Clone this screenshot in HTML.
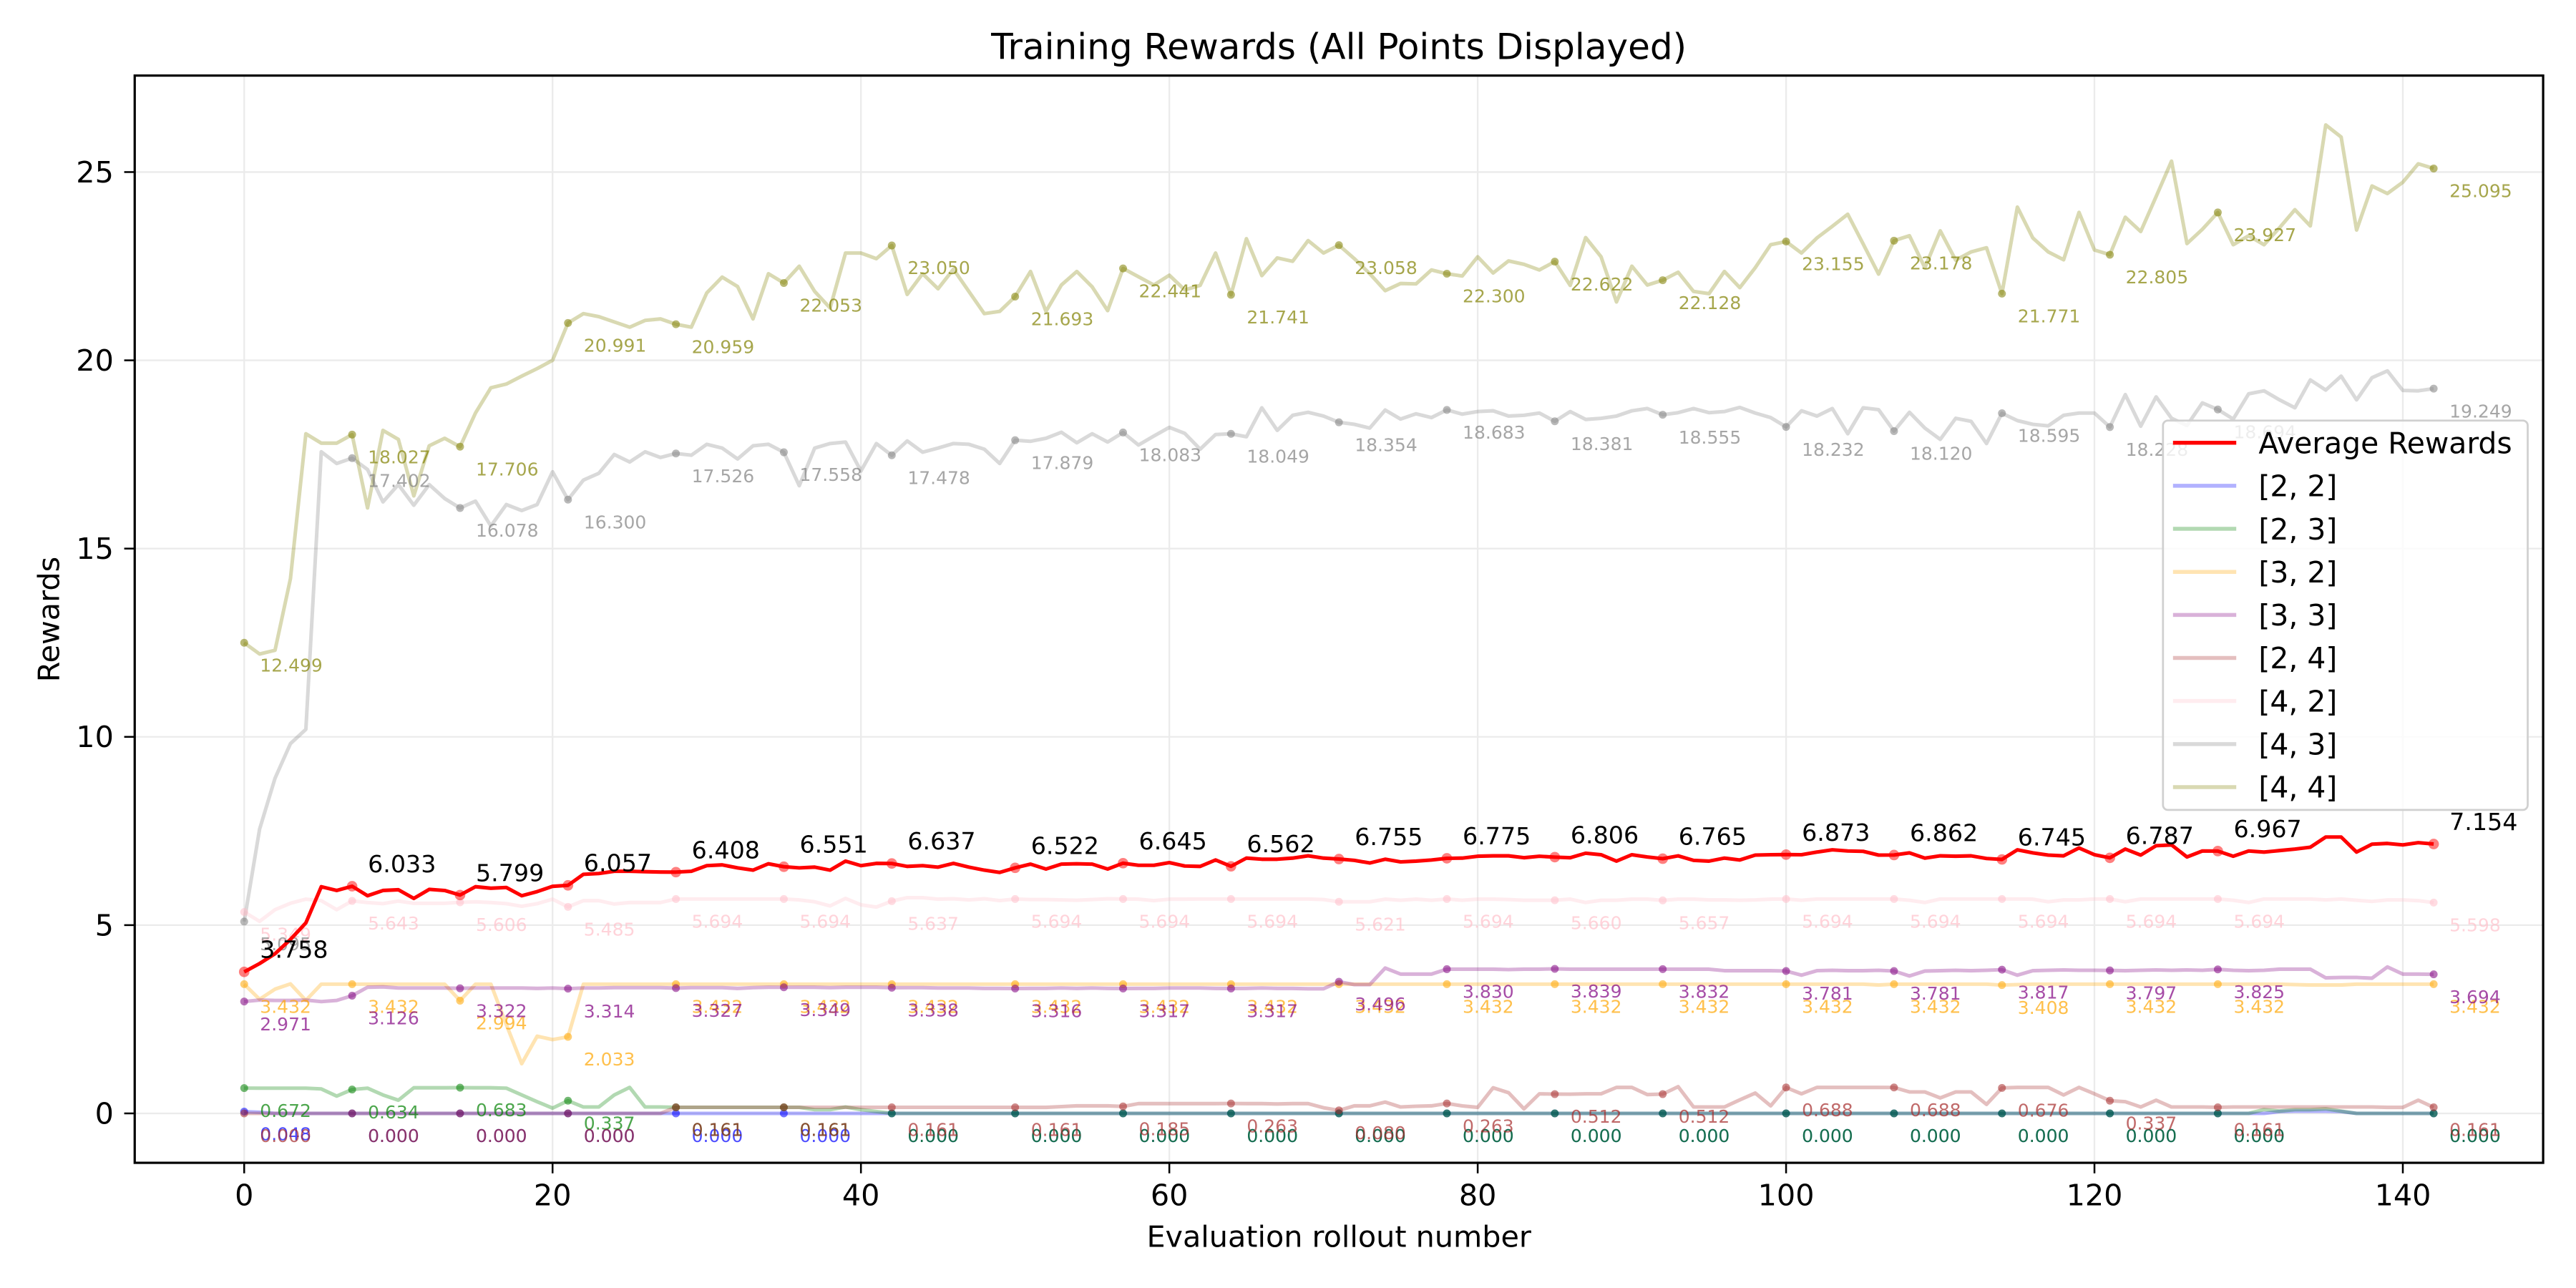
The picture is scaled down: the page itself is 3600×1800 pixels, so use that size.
<!DOCTYPE html>
<html><head><meta charset="utf-8"><style>
html,body{margin:0;padding:0;background:#fff;}
svg{display:block;font-family:"DejaVu Sans","Liberation Sans",sans-serif;}
</style></head><body>
<svg id="chart" width="3600" height="1800" viewBox="0 0 1568 784" xmlns="http://www.w3.org/2000/svg">
<rect x="0" y="0" width="1568" height="784" fill="#fff"/>
<text x="815" y="36" text-anchor="middle" font-size="21.8" fill="#000">Training Rewards (All Points Displayed)</text>
<text x="815" y="759" text-anchor="middle" font-size="18" fill="#000">Evaluation rollout number</text>
<text x="0" y="0" transform="translate(36,377) rotate(-90)" text-anchor="middle" font-size="18" fill="#000">Rewards</text>
<g id="grid"></g>
<g id="series"></g>
<g id="axes"></g>
<g id="legend"></g>
</svg>
<script>
const xTicks = [0, 20, 40, 60, 80, 100, 120, 140];
const yTicks = [0, 5, 10, 15, 20, 25];
const markIdx = [0,7,14,21,28,35,42,50,57,64,71,78,85,92,100,107,114,121,128,142];
const seriesNames = ["[2, 2]","[2, 3]","[3, 2]","[3, 3]","[2, 4]","[4, 2]","[4, 3]","[4, 4]"];
const avgRewards = [3.758,3.98,4.24,4.62,5.06,6.02,5.92,6.033,5.78,5.92,
5.94,5.71,5.95,5.92,5.799,6.02,5.98,6.0,5.78,5.89,
6.03,6.057,6.35,6.37,6.43,6.43,6.42,6.41,6.408,6.43,
6.58,6.6,6.52,6.46,6.63,6.551,6.52,6.54,6.46,6.7,
6.58,6.64,6.637,6.56,6.58,6.54,6.64,6.54,6.46,6.4,
6.522,6.62,6.49,6.62,6.63,6.62,6.49,6.645,6.59,6.59,
6.66,6.57,6.56,6.73,6.562,6.78,6.75,6.75,6.78,6.84,
6.78,6.755,6.72,6.65,6.75,6.68,6.7,6.73,6.775,6.78,
6.83,6.84,6.84,6.79,6.83,6.806,6.79,6.91,6.87,6.7,
6.87,6.81,6.765,6.84,6.72,6.7,6.78,6.73,6.86,6.87,
6.873,6.87,6.94,7.0,6.97,6.96,6.86,6.862,6.92,6.78,
6.84,6.83,6.84,6.77,6.745,7.0,6.92,6.86,6.84,7.05,
6.87,6.787,7.02,6.86,7.11,7.13,6.81,6.97,6.967,6.83,
6.97,6.94,6.98,7.02,7.07,7.34,7.34,6.94,7.15,7.17,
7.13,7.19,7.154];
const s22 = [0.048,0.03,0,0,0,0,0,0,0,0,
0,0,0,0,0,0,0,0,0,0,
0,0,0,0,0,0,0,0,0,0,
0,0,0,0,0,0,0,0,0,0,
0,0,0,0,0,0,0,0,0,0,
0,0,0,0,0,0,0,0,0,0,
0,0,0,0,0,0,0,0,0,0,
0,0,0,0,0,0,0,0,0,0,
0,0,0,0,0,0,0,0,0,0,
0,0,0,0,0,0,0,0,0,0,
0,0,0,0,0,0,0,0,0,0,
0,0,0,0,0,0,0,0,0,0,
0,0,0,0,0,0,0,0,0,0,
0,0,0.05,0.06,0.06,0.06,0.05,0,0,0,
0,0,0];
const s23 = [0.672,0.67,0.67,0.67,0.67,0.65,0.46,0.634,0.67,0.49,
0.35,0.68,0.68,0.68,0.683,0.68,0.68,0.67,0.49,0.31,
0.14,0.337,0.17,0.17,0.49,0.69,0.17,0.17,0.161,0.161,
0.161,0.161,0.161,0.161,0.161,0.161,0.161,0.1,0.1,0.17,
0.1,0.05,0,0,0,0,0,0,0,0,
0,0,0,0,0,0,0,0,0,0,
0,0,0,0,0,0,0,0,0,0,
0,0,0,0,0,0,0,0,0,0,
0,0,0,0,0,0,0,0,0,0,
0,0,0,0,0,0,0,0,0,0,
0,0,0,0,0,0,0,0,0,0,
0,0,0,0,0,0,0,0,0,0,
0,0,0,0,0,0,0,0,0,0,
0,0.1,0.06,0.1,0.1,0.12,0.06,0,0,0,
0,0,0];
const s32 = [3.432,3.03,3.3,3.44,3.0,3.432,3.432,3.432,3.432,3.432,
3.432,3.432,3.432,3.432,2.994,3.432,3.432,2.36,1.32,2.05,
1.96,2.033,3.432,3.432,3.432,3.432,3.432,3.432,3.432,3.432,
3.432,3.432,3.432,3.432,3.432,3.432,3.432,3.432,3.432,3.432,
3.432,3.432,3.432,3.432,3.432,3.432,3.432,3.432,3.432,3.432,
3.432,3.432,3.432,3.432,3.432,3.432,3.432,3.432,3.432,3.432,
3.432,3.432,3.432,3.432,3.432,3.432,3.432,3.432,3.432,3.432,
3.432,3.432,3.432,3.432,3.432,3.432,3.432,3.432,3.432,3.432,
3.432,3.432,3.432,3.432,3.432,3.432,3.432,3.432,3.432,3.432,
3.432,3.432,3.432,3.432,3.432,3.432,3.432,3.432,3.432,3.432,
3.432,3.432,3.432,3.432,3.432,3.432,3.41,3.432,3.432,3.432,
3.432,3.432,3.432,3.432,3.408,3.42,3.432,3.432,3.432,3.432,
3.432,3.432,3.432,3.432,3.432,3.432,3.432,3.432,3.432,3.432,
3.432,3.432,3.432,3.42,3.41,3.41,3.41,3.432,3.432,3.432,
3.432,3.432,3.432];
const s33 = [2.971,3.01,3.0,3.0,3.01,2.97,3.0,3.126,3.35,3.36,
3.33,3.33,3.33,3.33,3.322,3.33,3.33,3.33,3.33,3.32,
3.33,3.314,3.33,3.33,3.34,3.34,3.34,3.34,3.327,3.34,
3.34,3.34,3.32,3.34,3.35,3.349,3.35,3.35,3.34,3.35,
3.35,3.35,3.338,3.34,3.34,3.33,3.33,3.33,3.32,3.32,
3.316,3.32,3.32,3.33,3.32,3.33,3.32,3.317,3.32,3.32,
3.33,3.33,3.33,3.32,3.317,3.32,3.33,3.32,3.32,3.31,
3.31,3.496,3.42,3.42,3.86,3.7,3.7,3.7,3.83,3.83,
3.83,3.83,3.82,3.83,3.83,3.839,3.83,3.83,3.83,3.83,
3.83,3.83,3.832,3.83,3.83,3.83,3.79,3.79,3.79,3.79,
3.781,3.67,3.79,3.8,3.79,3.79,3.8,3.781,3.65,3.78,
3.79,3.8,3.79,3.8,3.817,3.67,3.79,3.8,3.81,3.8,
3.8,3.797,3.79,3.8,3.81,3.8,3.81,3.8,3.825,3.8,
3.79,3.8,3.83,3.83,3.83,3.6,3.61,3.61,3.59,3.89,
3.7,3.7,3.694];
const s24 = [0,0,0,0,0,0,0,0,0,0,
0,0,0,0,0,0,0,0,0,0,
0,0,0,0,0,0,0,0,0.161,0.161,
0.161,0.161,0.161,0.161,0.161,0.161,0.161,0.161,0.161,0.161,
0.161,0.161,0.161,0.161,0.161,0.161,0.161,0.161,0.161,0.161,
0.161,0.16,0.16,0.18,0.2,0.2,0.2,0.185,0.26,0.26,
0.26,0.26,0.26,0.26,0.263,0.26,0.26,0.25,0.26,0.26,
0.15,0.08,0.2,0.2,0.3,0.17,0.19,0.2,0.263,0.2,
0.16,0.68,0.55,0.12,0.52,0.512,0.51,0.52,0.52,0.69,
0.69,0.5,0.512,0.71,0.17,0.17,0.17,0.36,0.54,0.2,
0.688,0.52,0.69,0.69,0.69,0.69,0.69,0.688,0.57,0.57,
0.41,0.57,0.57,0.24,0.676,0.69,0.69,0.69,0.49,0.69,
0.52,0.337,0.31,0.17,0.35,0.17,0.17,0.17,0.161,0.17,
0.17,0.17,0.17,0.17,0.17,0.17,0.17,0.17,0.17,0.16,
0.16,0.35,0.161];
const s42 = [5.349,5.1,5.41,5.58,5.69,5.65,5.41,5.643,5.6,5.57,
5.64,5.58,5.58,5.58,5.606,5.62,5.6,5.57,5.5,5.57,
5.69,5.485,5.65,5.65,5.56,5.6,5.6,5.6,5.694,5.694,
5.694,5.694,5.694,5.694,5.694,5.694,5.67,5.62,5.51,5.71,
5.54,5.48,5.637,5.73,5.73,5.69,5.7,5.67,5.7,5.65,
5.694,5.68,5.68,5.67,5.66,5.68,5.7,5.694,5.69,5.65,
5.69,5.69,5.694,5.694,5.694,5.694,5.694,5.694,5.694,5.694,
5.68,5.621,5.62,5.62,5.69,5.66,5.69,5.66,5.694,5.66,
5.69,5.69,5.68,5.66,5.66,5.66,5.69,5.6,5.66,5.66,
5.69,5.69,5.657,5.69,5.69,5.67,5.67,5.66,5.67,5.69,
5.694,5.66,5.694,5.694,5.694,5.694,5.694,5.694,5.66,5.6,
5.694,5.694,5.694,5.694,5.694,5.694,5.69,5.62,5.67,5.67,
5.694,5.694,5.62,5.694,5.694,5.694,5.694,5.694,5.694,5.66,
5.6,5.694,5.694,5.694,5.694,5.67,5.694,5.66,5.63,5.67,
5.67,5.65,5.598];
const s43 = [5.095,7.55,8.9,9.82,10.2,17.57,17.26,17.402,17.1,16.24,
16.7,16.15,16.7,16.33,16.078,16.26,15.6,16.17,16.01,16.17,
17.04,16.3,16.82,17.0,17.5,17.3,17.57,17.42,17.526,17.48,
17.77,17.67,17.38,17.73,17.77,17.558,16.67,17.67,17.79,17.83,
17.06,17.79,17.478,17.86,17.56,17.67,17.79,17.77,17.64,17.26,
17.879,17.85,17.93,18.09,17.81,18.05,17.83,18.083,17.75,17.99,
18.22,18.06,17.64,18.03,18.049,17.97,18.74,18.14,18.54,18.62,
18.52,18.354,18.3,18.2,18.68,18.44,18.58,18.48,18.683,18.57,
18.64,18.66,18.52,18.54,18.6,18.381,18.64,18.43,18.46,18.52,
18.66,18.72,18.555,18.61,18.72,18.61,18.64,18.75,18.6,18.48,
18.232,18.66,18.52,18.72,18.05,18.74,18.69,18.12,18.62,18.2,
17.9,18.46,18.38,17.79,18.595,18.4,18.3,18.26,18.54,18.6,
18.6,18.228,19.09,18.25,19.03,18.46,18.27,18.87,18.694,18.44,
19.11,19.19,18.95,18.74,19.48,19.21,19.58,18.95,19.54,19.72,
19.2,19.19,19.249];
const s44 = [12.499,12.2,12.3,14.2,18.05,17.8,17.8,18.027,16.08,18.14,
17.9,16.4,17.73,17.93,17.706,18.6,19.27,19.37,19.58,19.78,
20.0,20.991,21.24,21.16,21.02,20.88,21.06,21.1,20.959,20.88,
21.79,22.21,21.96,21.1,22.3,22.053,22.5,21.83,21.39,22.85,
22.85,22.7,23.05,21.75,22.3,21.9,22.42,21.83,21.24,21.3,
21.693,22.36,21.3,22.0,22.36,21.95,21.32,22.441,22.22,22.0,
22.26,21.87,21.99,22.85,21.741,23.23,22.25,22.72,22.63,23.18,
22.85,23.058,22.7,22.3,21.85,22.04,22.03,22.4,22.3,22.24,
22.75,22.32,22.64,22.55,22.4,22.622,21.99,23.26,22.75,21.55,
22.5,22.0,22.128,22.34,21.83,21.77,22.36,21.93,22.46,23.07,
23.155,22.85,23.25,23.56,23.88,23.09,22.29,23.178,23.31,22.46,
23.44,22.66,22.88,22.99,21.771,24.07,23.25,22.88,22.67,23.93,
22.93,22.805,23.8,23.42,24.35,25.29,23.1,23.48,23.927,23.07,
23.31,23.07,23.52,24.0,23.57,26.25,25.93,23.46,24.63,24.43,
24.73,25.22,25.095];

const NS = "http://www.w3.org/2000/svg";
const L = 82, R = 1548, T = 46, B = 707.8;
const xMin = -7.1, xMax = 149.1, yMin = -1.3125, yMax = 27.5625;
function xs(v){ return L + (v - xMin) / (xMax - xMin) * (R - L); }
function ys(v){ return B - (v - yMin) / (yMax - yMin) * (B - T); }
function mk(tag, attrs){ const e = document.createElementNS(NS, tag); for (const k in attrs) e.setAttribute(k, attrs[k]); return e; }

const grid = document.getElementById('grid');
const axes = document.getElementById('axes');
const layer = document.getElementById('series');
const legend = document.getElementById('legend');

xTicks.forEach(t => {
  const g = mk('line', {x1: xs(t), x2: xs(t), y1: T, y2: B, stroke: '#ebebeb', 'stroke-width': 1});
  
  
  grid.appendChild(g);
  const tk = mk('line', {x1: xs(t), x2: xs(t), y1: B, y2: B + 6.4, stroke: '#000', 'stroke-width': 1.1});
  
  
  axes.appendChild(tk);
  const lb = mk('text', {x: xs(t), y: B + 26, 'text-anchor': 'middle', 'font-size': 18, fill: '#000'});
  lb.textContent = String(t);
  
  
  axes.appendChild(lb);
});
yTicks.forEach(t => {
  const g = mk('line', {x1: L, x2: R, y1: ys(t), y2: ys(t), stroke: '#ebebeb', 'stroke-width': 1});
  
  
  grid.appendChild(g);
  const tk = mk('line', {x1: L - 6.4, x2: L, y1: ys(t), y2: ys(t), stroke: '#000', 'stroke-width': 1.1});
  
  
  axes.appendChild(tk);
  const lb = mk('text', {x: L - 12.8, y: ys(t) + 6.3, 'text-anchor': 'end', 'font-size': 18, fill: '#000'});
  lb.textContent = String(t);
  
  
  axes.appendChild(lb);
});
const frame = mk('rect', {x: L, y: T, width: R - L, height: B - T, fill: 'none', stroke: '#000', 'stroke-width': 1.4});


axes.appendChild(frame);

const seriesData = [s22, s23, s32, s33, s24, s42, s43, s44];
const baseColors = ['#0000ff', '#008000', '#ffa500', '#800080', '#a52a2a', '#ffc0cb', '#808080', '#808000'];
const seriesKeys = ['2-2', '2-3', '3-2', '3-3', '2-4', '4-2', '4-3', '4-4'];

function pathFor(arr){ return arr.map((v, i) => (i ? 'L' : 'M') + xs(i).toFixed(2) + ' ' + ys(v).toFixed(2)).join(' '); }

seriesData.forEach((arr, k) => {
  const p = mk('path', {d: pathFor(arr), fill: 'none', stroke: baseColors[k], 'stroke-opacity': 0.3, 'stroke-width': 2.2, 'stroke-linejoin': 'round'});
  
  
  layer.appendChild(p);
});
seriesData.forEach((arr, k) => {
  markIdx.forEach(i => {
    const c = mk('circle', {cx: xs(i), cy: ys(arr[i]), r: 2.4, fill: baseColors[k], 'fill-opacity': 0.55});
    
    
    layer.appendChild(c);
    const t = mk('text', {x: xs(i) + 9.6, y: ys(arr[i]) + 17.5, 'font-size': 10.9, fill: baseColors[k], 'fill-opacity': 0.7});
    t.textContent = arr[i].toFixed(3);
    
    
    layer.appendChild(t);
  });
});
const ap = mk('path', {d: pathFor(avgRewards), fill: 'none', stroke: '#ff0000', 'stroke-width': 2.2, 'stroke-linejoin': 'round'});


layer.appendChild(ap);
markIdx.forEach(i => {
  const c = mk('circle', {cx: xs(i), cy: ys(avgRewards[i]), r: 3.2, fill: '#ff0000', 'fill-opacity': 0.5});
  
  
  layer.appendChild(c);
  const t = mk('text', {x: xs(i) + 9.6, y: ys(avgRewards[i]) - 8.5, 'font-size': 14.5, fill: '#000'});
  t.textContent = avgRewards[i].toFixed(3);
  
  
  layer.appendChild(t);
});

const box = mk('rect', {x: 1316.6, y: 256, width: 222, height: 237, rx: 3, fill: '#fff', 'fill-opacity': 0.8, stroke: '#d0d0d0', 'stroke-width': 1.2});


legend.appendChild(box);
const legNames = ['Average Rewards'].concat(seriesNames);
const legColors = ['#ff0000'].concat(baseColors);
legNames.forEach((n, j) => {
  const yy = 269.5 + j * 26.2;
  const ln = mk('line', {x1: 1322.7, x2: 1361.2, y1: yy, y2: yy, stroke: legColors[j], 'stroke-opacity': j === 0 ? 1 : 0.3, 'stroke-width': 2.4});
  
  
  legend.appendChild(ln);
  const tx = mk('text', {x: 1374.8, y: yy + 6.4, 'font-size': 17.8, fill: '#000'});
  tx.textContent = n;
  
  
  legend.appendChild(tx);
});
</script>
</body></html>
